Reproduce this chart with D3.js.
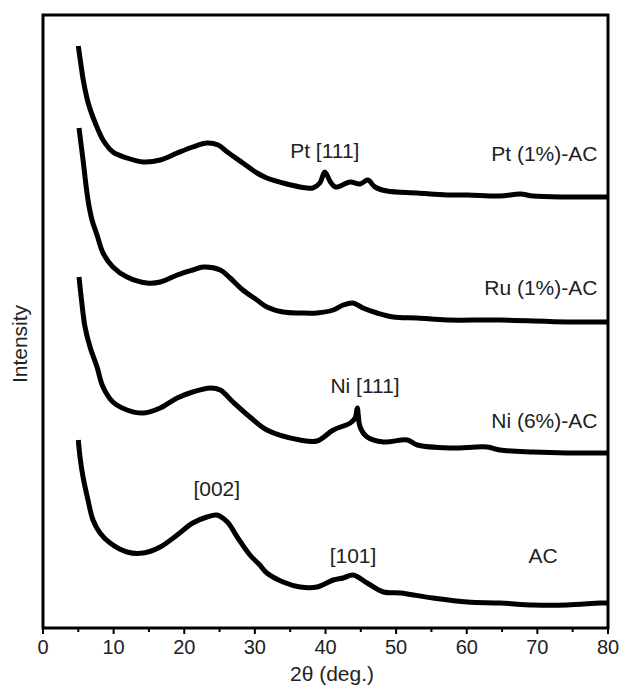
<!DOCTYPE html>
<html>
<head>
<meta charset="utf-8">
<script src="https://cdn.jsdelivr.net/npm/d3@7"></script>
<style>
  body { margin: 0; background: #fff; }
  text { font-family: "Liberation Sans", Arial, sans-serif; fill: #222; }
</style>
</head>
<body>
<svg id="chart" width="619" height="687"></svg>
<script>
// XRD patterns, stacked (intensity in a.u., offsets already included)
const ptAngle = [5.0, 5.34, 5.7, 6.4, 7.4, 8.5, 9.9, 11.9, 14.2, 16.6, 19.0, 21.2, 23.2, 24.8, 26.1, 28.3, 30.3, 31.7, 34.0, 36.4, 38.2, 39.2, 39.9, 40.7, 41.4, 43.5, 44.9, 46.0, 47.0, 48.7, 53.0, 57.2, 60.1, 64.7, 67.6, 69.4, 74.2, 79.9];
const ptValues = [582, 565, 548, 525, 505, 488, 476, 470, 466, 468, 475, 481, 485, 483, 476, 465, 455, 450, 445, 441, 440, 445, 456, 446, 441, 446, 444, 448, 441, 437, 435, 433, 433, 432, 434, 432, 431, 431];

const ruAngle = [5.1, 5.67, 6.37, 6.94, 7.65, 8.5, 9.9, 11.9, 14.7, 16.6, 19.0, 21.2, 22.7, 25.1, 26.5, 28.3, 30.3, 31.7, 34.0, 36.4, 38.8, 41.1, 42.5, 43.9, 45.3, 47.3, 49.6, 53.0, 57.2, 64.7, 74.2, 79.9];
const ruValues = [500, 468, 428, 408, 393, 375, 361, 351, 345, 346, 353, 358, 361, 358, 350, 338, 328, 321, 316, 315, 315, 318, 323, 325, 320, 315, 311, 310, 308, 308, 306, 306];

const niAngle = [5.1, 5.5, 5.95, 6.66, 7.65, 8.5, 9.9, 11.9, 14.2, 16.6, 19.0, 21.2, 23.7, 25.1, 26.9, 29.3, 31.7, 36.4, 38.8, 41.1, 43.5, 44.2, 44.5, 44.9, 45.9, 48.2, 51.6, 53.0, 57.6, 62.9, 64.7, 69.4, 74.2, 79.9];
const niValues = [351, 325, 301, 281, 261, 241, 226, 218, 215, 220, 230, 236, 240, 238, 226, 211, 198, 188, 187, 198, 205, 210, 220, 201, 191, 186, 188, 183, 180, 181, 178, 176, 175, 175];

const acAngle = [5.0, 5.24, 5.67, 6.37, 7.08, 8.07, 9.5, 11.9, 14.2, 16.6, 19.0, 21.2, 23.2, 24.6, 26.1, 27.5, 29.3, 30.7, 31.7, 34.0, 36.4, 38.8, 41.1, 42.5, 43.9, 45.9, 48.2, 50.6, 55.2, 60.1, 64.7, 69.4, 74.2, 78.9, 79.9];
const acValues = [188, 171, 151, 128, 108, 95, 85, 76, 75, 81, 93, 105, 111, 113, 106, 91, 73, 63, 55, 46, 41, 41, 48, 50, 53, 45, 36, 35, 30, 26, 25, 23, 23, 25, 25];

const xTicks = [0, 10, 20, 30, 40, 50, 60, 70, 80];

// label text, angle and intensity where it sits
const annotations = [
  { text: "Pt [111]", x: 39.9, y: 470, anchor: "middle" },
  { text: "Pt (1%)-AC", x: 78.5, y: 467, anchor: "end" },
  { text: "Ru (1%)-AC", x: 78.5, y: 333, anchor: "end" },
  { text: "Ni [111]", x: 45.6, y: 235, anchor: "middle" },
  { text: "Ni (6%)-AC", x: 78.5, y: 200, anchor: "end" },
  { text: "[002]", x: 24.6, y: 132, anchor: "middle" },
  { text: "[101]", x: 43.9, y: 65, anchor: "middle" },
  { text: "AC", x: 70.8, y: 65, anchor: "middle" }
];

const svg = d3.select("#chart");
const margin = { top: 15, right: 11, bottom: 59, left: 43 };
const width = 619 - margin.left - margin.right;
const height = 687 - margin.top - margin.bottom;

const g = svg.append("g").attr("transform", `translate(${margin.left},${margin.top})`);

const x = d3.scaleLinear().domain([0, 80]).range([0, width]);
const y = d3.scaleLinear().domain([0, 613]).range([height, 0]);

const line = d3.line()
  .x(d => x(d[0]))
  .y(d => y(d[1]))
  .curve(d3.curveCatmullRom.alpha(0.5));

const series = [
  [ptAngle, ptValues],
  [ruAngle, ruValues],
  [niAngle, niValues],
  [acAngle, acValues]
];

series.forEach(([a, v]) => {
  g.append("path")
    .datum(d3.zip(a, v))
    .attr("d", line)
    .attr("fill", "none")
    .attr("stroke", "#000")
    .attr("stroke-width", 5)
    .attr("stroke-linejoin", "round");
});

// frame
g.append("rect")
  .attr("width", width)
  .attr("height", height)
  .attr("fill", "none")
  .attr("stroke", "#000")
  .attr("stroke-width", 3);

// x axis with minor ticks at 5
const xAxis = g.append("g").attr("transform", `translate(0,${height})`);
xAxis.selectAll(".minor")
  .data(d3.range(5, 80, 10))
  .enter().append("line")
  .attr("x1", d => x(d)).attr("x2", d => x(d))
  .attr("y1", 0).attr("y2", 4)
  .attr("stroke", "#000").attr("stroke-width", 2);
xAxis.selectAll(".major")
  .data(xTicks)
  .enter().append("line")
  .attr("x1", d => x(d)).attr("x2", d => x(d))
  .attr("y1", 0).attr("y2", 6)
  .attr("stroke", "#000").attr("stroke-width", 2);
xAxis.selectAll(".tick-label")
  .data(xTicks)
  .enter().append("text")
  .attr("x", d => x(d))
  .attr("y", 26)
  .attr("text-anchor", "middle")
  .attr("font-size", 20)
  .text(d => d);

svg.append("text")
  .attr("x", 332)
  .attr("y", 681)
  .attr("text-anchor", "middle")
  .attr("font-size", 21)
  .text("2θ (deg.)");

svg.append("text")
  .attr("transform", `translate(27,344) rotate(-90)`)
  .attr("text-anchor", "middle")
  .attr("font-size", 21)
  .text("Intensity");

g.selectAll(".note")
  .data(annotations)
  .enter().append("text")
  .attr("x", d => x(d.x))
  .attr("y", d => y(d.y))
  .attr("text-anchor", d => d.anchor)
  .attr("font-size", 21)
  .text(d => d.text);
</script>
</body>
</html>
